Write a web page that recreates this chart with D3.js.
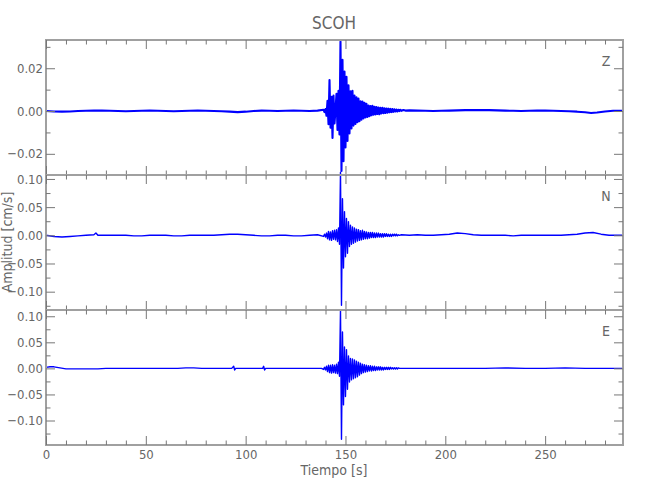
<!DOCTYPE html>
<html><head><meta charset="utf-8">
<script src="https://cdn.jsdelivr.net/npm/d3@7"></script>
<style>body{margin:0;background:#fff}svg{display:block}</style>
</head><body><svg id="c" width="650" height="500"></svg>
<script>
// ---------------- data ----------------
const title = "SCOH";
const xLabel = "Tiempo [s]";
const yLabel = "Amplitud [cm/s]";
const components = ["Z", "N", "E"];
const timeRange = [0, 289];
const xMajorTicks = [0, 50, 100, 150, 200, 250];
const xMinorTicks = [10,20,30,40,60,70,80,90,110,120,130,140,160,170,180,190,210,220,230,240,260,270,280];

const zRange = [-0.0299, 0.0332];
const nRange = [-0.1325, 0.107];
const eRange = [-0.147, 0.112];
const zMajorTicks = [-0.02, 0, 0.02];
const zMinorTicks = [-0.01, 0.01, 0.03];
const neMajorTicks = [-0.10, -0.05, 0, 0.05, 0.10];
const neMinorTicks = [-0.125, -0.075, -0.025, 0.025, 0.075];

// burst segment sampling (seconds)
const burstStart = 139.0;
const burstStep = 0.5;

// Z component [t, cm/s]
const zBefore = [[0,0.0000],[4,-0.0002],[8,-0.0003],[12,-0.0002],[16,0.0000],[20,0.0001],[24,0.0002],[28,0.0002],[32,0.0001],[36,0.0000],[40,-0.0001],[44,0.0000],[48,0.0001],[52,0.0002],[56,0.0001],[60,0.0000],[64,-0.0001],[68,0.0000],[72,0.0001],[76,0.0002],[80,0.0001],[84,0.0000],[88,-0.0001],[92,-0.0003],[96,-0.0005],[100,-0.0003],[104,0.0000],[108,0.0002],[112,0.0001],[116,0.0000],[120,0.0001],[124,0.0002],[128,0.0001],[132,0.0000],[136,0.0002]];
const zBurst = [0.0006,-0.0005,0.0009,-0.0022,0.0048,-0.0062,0.0145,-0.0078,0.0066,-0.0126,0.0072,-0.0058,0.0005,0.0080,-0.0088,0.0095,-0.0110,0.0325,-0.0280,0.0240,-0.0235,0.0185,-0.0170,0.0160,-0.0140,0.0120,-0.0105,0.0092,-0.0082,0.0095,-0.0068,0.0072,-0.0060,0.0064,-0.0052,0.0058,-0.0048,0.0045,-0.0040,0.0044,-0.0035,0.0038,-0.0030,0.0034,-0.0028,0.0026,-0.0024,0.0023,-0.0020,0.0024,-0.0017,0.0020,-0.0016,0.0019,-0.0014,0.0016,-0.0015,0.0015,-0.0011,0.0015,-0.0010,0.0013,-0.0009,0.0012,-0.0008,0.0011,-0.0006,0.0010,-0.0005,0.0009,-0.0004,0.0008,-0.0002];
const zAfter = [[175.5,0.0007],[176,-0.0002],[176.5,0.0006],[177,0.0000],[177.5,0.0006],[178,0.0001],[179,0.0005],[180,0.0002],[182,0.0003],[186,0.0002],[190,0.0001],[194,0.0000],[198,0.0001],[202,0.0002],[206,0.0003],[210,0.0004],[214,0.0004],[218,0.0005],[222,0.0004],[226,0.0003],[230,0.0002],[234,0.0001],[238,0.0000],[242,0.0001],[246,0.0002],[250,0.0002],[254,0.0001],[258,0.0000],[262,-0.0001],[266,-0.0003],[270,-0.0006],[273,-0.0009],[276,-0.0007],[280,-0.0002],[284,0.0001],[289,0.0001]];

// N component
const nBefore = [[0,0.000],[4,-0.002],[8,-0.003],[12,-0.002],[16,-0.001],[20,0.000],[24,0.001],[25,0.004],[26,0.000],[28,0.000],[32,0.000],[36,0.000],[40,0.000],[44,-0.001],[48,-0.001],[52,0.000],[56,0.000],[60,0.000],[64,-0.001],[68,-0.001],[72,0.000],[76,0.000],[80,0.000],[84,0.000],[88,0.001],[92,0.002],[96,0.002],[100,0.001],[104,0.000],[108,-0.001],[112,-0.001],[116,0.000],[120,0.000],[124,-0.001],[128,-0.001],[132,0.000],[136,0.001]];
const nBurst = [-0.002,0.002,-0.003,0.004,-0.006,0.007,-0.008,0.006,-0.009,0.008,-0.007,0.009,-0.008,0.010,-0.011,0.013,-0.016,0.112,-0.124,0.065,-0.058,0.042,-0.038,0.030,-0.032,0.024,-0.020,0.018,-0.016,0.015,-0.014,0.013,-0.012,0.011,-0.010,0.010,-0.009,0.008,-0.008,0.009,-0.007,0.007,-0.006,0.006,-0.006,0.005,-0.005,0.005,-0.004,0.005,-0.004,0.004,-0.004,0.004,-0.003,0.004,-0.003,0.003,-0.003,0.003,-0.003,0.003,-0.002,0.003,-0.002,0.002,-0.002,0.002,-0.002,0.002,-0.001,0.002,-0.001];
const nAfter = [[175.5,0.002],[176,-0.001],[176.5,0.001],[177,0.000],[178,0.001],[182,0.000],[186,0.001],[190,0.000],[194,0.000],[198,0.001],[202,0.002],[206,0.004],[210,0.003],[214,0.001],[218,0.000],[222,0.000],[226,0.000],[230,0.000],[234,-0.001],[238,0.000],[242,0.000],[246,0.000],[250,0.000],[254,0.000],[258,0.000],[262,0.001],[266,0.002],[270,0.004],[274,0.005],[278,0.002],[282,0.000],[286,0.000],[289,0.000]];

// E component
const eBefore = [[0,0.002],[2,0.003],[4,0.003],[7,0.001],[10,-0.001],[14,-0.001],[18,-0.001],[22,-0.001],[26,-0.001],[30,0.000],[34,0.000],[38,0.000],[42,0.000],[46,0.000],[50,0.000],[54,0.000],[58,0.000],[62,0.000],[66,0.000],[70,0.001],[74,0.001],[78,0.000],[82,0.000],[86,0.000],[90,0.000],[93,0.000],[94,0.004],[94.5,-0.003],[95,0.000],[98,0.000],[102,0.000],[106,0.000],[108.5,0.000],[109,0.004],[109.5,-0.003],[110,0.000],[114,0.000],[118,0.000],[122,0.000],[126,0.000],[130,0.000],[134,0.000],[138,0.000]];
const eBurst = [-0.002,0.002,-0.003,0.004,-0.006,0.006,-0.008,0.006,-0.009,0.007,-0.008,0.006,-0.009,0.008,-0.010,0.012,-0.015,0.112,-0.136,0.070,-0.070,0.041,-0.054,0.036,-0.040,0.024,-0.026,0.019,-0.022,0.018,-0.020,0.016,-0.018,0.014,-0.016,0.012,-0.013,0.010,-0.010,0.008,-0.008,0.007,-0.007,0.006,-0.006,0.005,-0.005,0.005,-0.005,0.004,-0.004,0.004,-0.004,0.003,-0.003,0.003,-0.003,0.003,-0.003,0.002,-0.003,0.002,-0.002,0.002,-0.002,0.002,-0.002,0.002,-0.001,0.001,-0.001,0.001,-0.001];
const eAfter = [[175.5,0.001],[176,-0.001],[176.5,0.001],[177,0.000],[178,0.000],[182,0.000],[190,0.000],[200,0.000],[210,0.000],[220,0.000],[230,0.001],[240,0.000],[250,0.000],[260,0.001],[270,0.000],[280,0.000],[289,0.000]];

// ---------------- drawing ----------------
const FONT = "'Liberation Sans Narrow','DejaVu Sans Condensed','Liberation Sans',sans-serif";
const svg = d3.select("#c");
const left = 46, right = 623;
const panelTops = [40, 175, 310];
const panelH = 135;
const x = d3.scaleLinear().domain(timeRange).range([left, right]);

function series(before, burst, after) {
  const mid = burst.map((v, i) => [burstStart + i * burstStep, v]);
  return before.concat(mid, after);
}
const panels = [
  {name: components[0], range: zRange, major: zMajorTicks, minor: zMinorTicks, data: series(zBefore, zBurst, zAfter), sw: 2.1},
  {name: components[1], range: nRange, major: neMajorTicks, minor: neMinorTicks, data: series(nBefore, nBurst, nAfter), sw: 1.4},
  {name: components[2], range: eRange, major: neMajorTicks, minor: neMinorTicks, data: series(eBefore, eBurst, eAfter), sw: 1.4}
];
const fmt = d3.format(".2f");

function styleAxis(g, showText) {
  g.select(".domain").remove();
  g.selectAll(".tick line").attr("stroke", "#777").attr("stroke-width", 1);
  g.selectAll(".tick text").attr("fill", "#666").style("font-family", FONT).style("font-size", "13px");
  if (!showText) g.selectAll(".tick text").remove();
}

panels.forEach((p, i) => {
  const top = panelTops[i], bottom = top + panelH;
  const y = d3.scaleLinear().domain(p.range).range([bottom, top]);
  const g = svg.append("g");

  // waveform
  const line = d3.line().x(d => x(d[0])).y(d => y(d[1]));
  g.append("path").datum(p.data).attr("d", line)
    .attr("fill", "none").attr("stroke", "#0000ff").attr("stroke-width", p.sw)
    .attr("stroke-linejoin", "round");

  // frame
  g.append("rect").attr("x", left).attr("y", top).attr("width", right - left).attr("height", panelH)
    .attr("fill", "none").attr("stroke", "#a0a0a0").attr("stroke-width", 2);

  // y axes
  g.append("g").attr("transform", `translate(${left},0)`)
    .call(d3.axisLeft(y).tickValues(p.major).tickSize(-9).tickSizeOuter(0).tickPadding(3)
      .tickFormat(v => fmt(v).replace("-", "\u2212")))
    .call(s => styleAxis(s, true));
  g.append("g").attr("transform", `translate(${left},0)`)
    .call(d3.axisLeft(y).tickValues(p.minor).tickSize(-4.5).tickSizeOuter(0).tickFormat(""))
    .call(s => styleAxis(s, false));
  g.append("g").attr("transform", `translate(${right},0)`)
    .call(d3.axisRight(y).tickValues(p.major).tickSize(-9).tickSizeOuter(0).tickFormat(""))
    .call(s => styleAxis(s, false));
  g.append("g").attr("transform", `translate(${right},0)`)
    .call(d3.axisRight(y).tickValues(p.minor).tickSize(-4.5).tickSizeOuter(0).tickFormat(""))
    .call(s => styleAxis(s, false));

  // x axes (top and bottom of each panel)
  g.append("g").attr("transform", `translate(0,${top})`)
    .call(d3.axisTop(x).tickValues(xMajorTicks).tickSize(-9).tickSizeOuter(0).tickFormat(""))
    .call(s => styleAxis(s, false));
  g.append("g").attr("transform", `translate(0,${top})`)
    .call(d3.axisTop(x).tickValues(xMinorTicks).tickSize(-4.5).tickSizeOuter(0).tickFormat(""))
    .call(s => styleAxis(s, false));
  const last = i === panels.length - 1;
  g.append("g").attr("transform", `translate(0,${bottom})`)
    .call(d3.axisBottom(x).tickValues(xMajorTicks).tickSize(-9).tickSizeOuter(0).tickPadding(5).tickFormat(d3.format("d")))
    .call(s => styleAxis(s, last));
  g.append("g").attr("transform", `translate(0,${bottom})`)
    .call(d3.axisBottom(x).tickValues(xMinorTicks).tickSize(-4.5).tickSizeOuter(0).tickFormat(""))
    .call(s => styleAxis(s, false));

  // component label
  g.append("text").attr("x", 606).attr("y", top + 26).attr("text-anchor", "middle")
    .attr("fill", "#666").style("font-family", FONT).style("font-size", "14px").text(p.name);
});

svg.append("text").attr("x", 334).attr("y", 29).attr("text-anchor", "middle")
  .attr("fill", "#666").style("font-family", FONT).style("font-size", "17px").text(title);
svg.append("text").attr("x", 334).attr("y", 475).attr("text-anchor", "middle")
  .attr("fill", "#666").style("font-family", FONT).style("font-size", "14px").text(xLabel);
svg.append("text").attr("transform", "translate(12,242) rotate(-90)").attr("text-anchor", "middle")
  .attr("fill", "#666").style("font-family", FONT).style("font-size", "14px").text(yLabel);
</script>
</body></html>
